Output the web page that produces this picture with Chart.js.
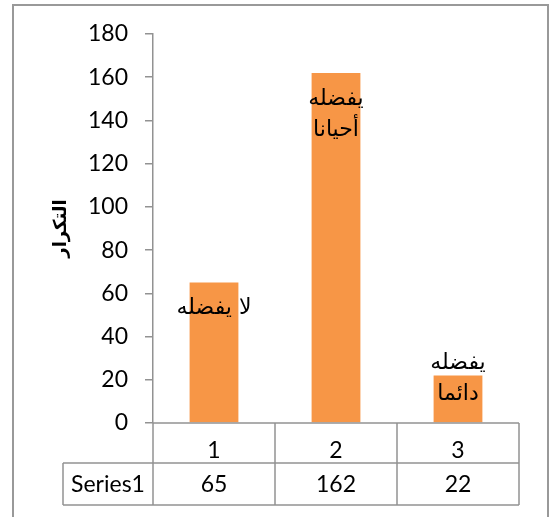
<!DOCTYPE html>
<html>
<head>
<meta charset="utf-8">
<script src="https://cdn.jsdelivr.net/npm/chart.js@4.4.1/dist/chart.umd.min.js"></script>
<style>
  html, body { margin: 0; padding: 0; background: #fff; }
  #wrap { width: 550px; height: 517px; }
</style>
</head>
<body>
<div id="wrap"><canvas id="chart" width="550" height="517"></canvas></div>
<script>
// data
const categories = ['1', '2', '3'];
const seriesName = 'Series1';
const values = [65, 162, 22];
const barLabels = [['لا يفضله'], ['يفضله', 'أحيانا'], ['يفضله', 'دائما']];
const yTitle = 'التكرار';
const yMin = 0, yMax = 180, yStep = 20;

const GRAY = '#929292';
const NUM_FONT = 'Lato, "Open Sans", sans-serif';
const AR_FONT = '"DejaVu Sans", sans-serif';

// outer frame of the chart object
const framePlugin = {
  id: 'frame',
  beforeDraw(chart) {
    const ctx = chart.ctx;
    ctx.save();
    ctx.strokeStyle = '#999';
    ctx.lineWidth = 2;
    ctx.strokeRect(13, 5, 535, 600);
    ctx.restore();
  }
};

// text labels inside the bars
const barTextPlugin = {
  id: 'barText',
  afterDatasetsDraw(chart) {
    const ctx = chart.ctx;
    const meta = chart.getDatasetMeta(0);
    ctx.save();
    ctx.font = '22px ' + AR_FONT;
    ctx.fillStyle = '#000';
    ctx.textAlign = 'center';
    ctx.textBaseline = 'middle';
    ctx.direction = 'rtl';
    meta.data.forEach((bar, i) => {
      const lines = barLabels[i];
      const lh = 31;
      const y0 = Math.min(bar.y + 26, bar.base - 28 - (lines.length - 1) * lh);
      lines.forEach((t, k) => ctx.fillText(t, bar.x, y0 + k * lh));
    });
    ctx.restore();
  }
};

// data table under the x axis
const tablePlugin = {
  id: 'dataTable',
  afterDraw(chart) {
    const { ctx, scales: { x } } = chart;
    const tableLeft = 63;
    const r0 = x.top, r1 = x.top + 40, r2 = x.bottom;
    const step = (x.right - x.left) / categories.length;
    ctx.save();
    ctx.strokeStyle = GRAY;
    ctx.lineWidth = 1.5;
    ctx.beginPath();
    ctx.moveTo(x.left, r0); ctx.lineTo(x.right, r0);
    ctx.moveTo(tableLeft, r1); ctx.lineTo(x.right, r1);
    ctx.moveTo(tableLeft, r2); ctx.lineTo(x.right, r2);
    ctx.moveTo(tableLeft, r1); ctx.lineTo(tableLeft, r2);
    for (let i = 0; i <= categories.length; i++) {
      const px = x.left + i * step;
      ctx.moveTo(px, r0); ctx.lineTo(px, r2);
    }
    ctx.stroke();

    ctx.fillStyle = '#000';
    ctx.font = '23px ' + NUM_FONT;
    ctx.textBaseline = 'middle';
    ctx.textAlign = 'center';
    const ym = (r1 + r2) / 2 + 1;
    ctx.fillText(seriesName, (tableLeft + x.left) / 2, ym);
    values.forEach((v, i) => ctx.fillText(String(v), x.getPixelForValue(i), ym));
    ctx.restore();
  }
};

new Chart(document.getElementById('chart'), {
  type: 'bar',
  data: {
    labels: categories,
    datasets: [{
      label: seriesName,
      data: values,
      backgroundColor: '#F79646',
      borderWidth: 0,
      barPercentage: 0.4,
      categoryPercentage: 1
    }]
  },
  options: {
    responsive: false,
    animation: false,
    layout: { padding: { left: 12, top: 34, right: 31, bottom: 12 } },
    plugins: {
      legend: { display: false },
      tooltip: { enabled: false }
    },
    scales: {
      x: {
        grid: { display: false },
        border: { display: false },
        ticks: { color: '#000', font: { family: NUM_FONT, size: 23 }, padding: 6 },
        afterFit(s) { s.height = 82; }
      },
      y: {
        min: yMin,
        max: yMax,
        ticks: { stepSize: yStep, color: '#000', font: { family: NUM_FONT, size: 23 }, padding: 17 },
        grid: { drawOnChartArea: false, drawTicks: true, tickLength: 8, color: GRAY, lineWidth: 1.5 },
        border: { display: true, color: GRAY, width: 1.5 },
        title: {
          display: true,
          text: yTitle,
          color: '#000',
          font: { family: AR_FONT, size: 18, weight: 'bold' },
          padding: { top: 39 }
        },
        afterFit(s) { s.width = 141; }
      }
    }
  },
  plugins: [framePlugin, barTextPlugin, tablePlugin]
});
</script>
</body>
</html>
